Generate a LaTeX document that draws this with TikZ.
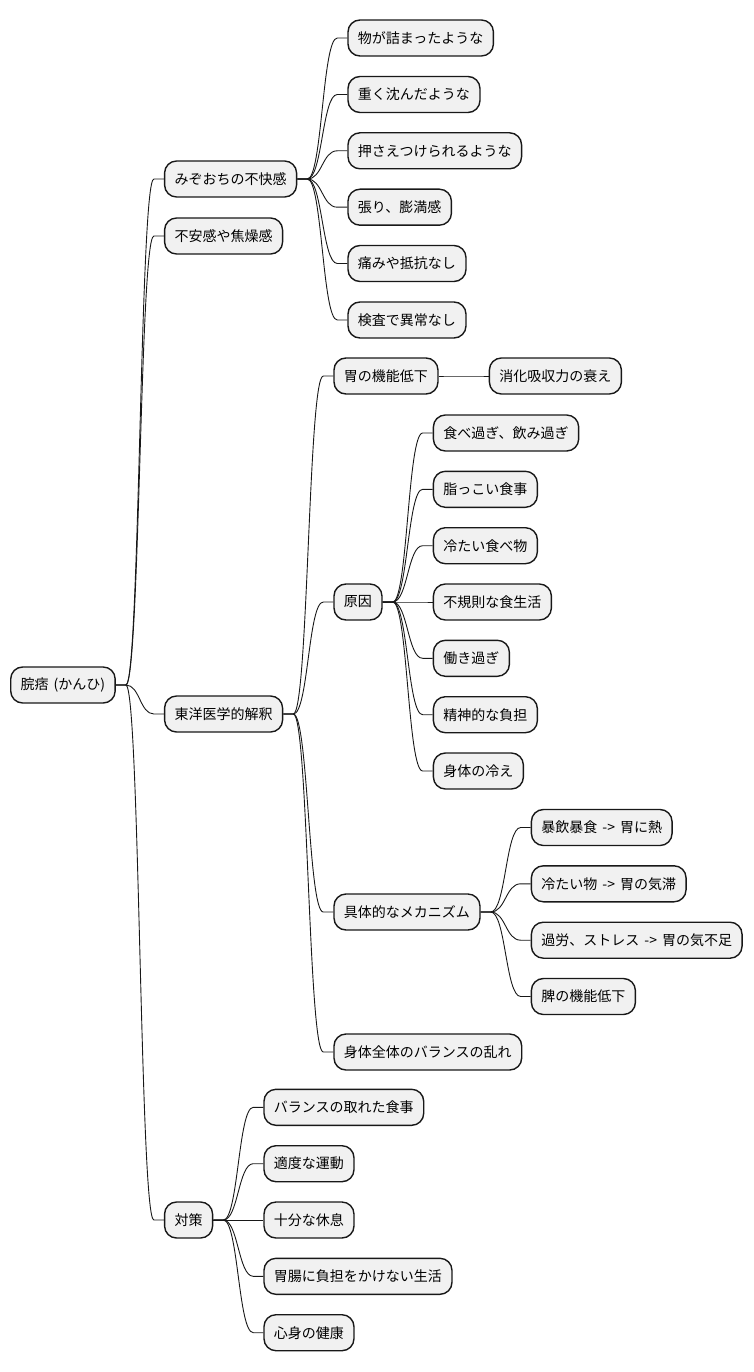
\documentclass[tikz,border=0pt]{standalone}
\usepackage{fontspec}
\setmainfont[WordSpace=1.6]{Noto Sans CJK JP}
\usetikzlibrary{positioning,calc}
\definecolor{boxgray}{RGB}{241,241,241}
\definecolor{edgegray}{RGB}{24,24,24}
\newcommand{\branch}[2]{%
    \path (#1.east) ++(10pt,0) coordinate (s);
    \path (#2.west) ++(-10pt,0) coordinate (t);
    \coordinate (m) at ($(s)!0.5!(t)$);
    \draw[link] (#1.east) -- (s) .. controls (s -| m) and (t -| m) .. (t) -- (#2.west);
}

\begin{document}
\begin{tikzpicture}[
    node distance=50pt,
    box/.style={rectangle, draw=edgegray, fill=boxgray, line width=1.4pt, rounded corners=12pt, minimum height=36pt, inner xsep=10pt, inner ysep=0pt, font=\fontsize{14}{17}\selectfont},
    link/.style={draw=edgegray, line width=0.9pt}
]
    \useasboundingbox (0,0) rectangle (754pt,-1372pt);

    \node[box, anchor=west] (root) at (10pt,-685pt) {脘痞 (かんひ)};

    \node[box, right=48pt of root, yshift=506pt] (mizo) {みぞおちの不快感};
    \node[box, right=48pt of root, yshift=449pt] (fuan) {不安感や焦燥感};
    \node[box, right=48pt of root, yshift=-29pt] (toyo) {東洋医学的解釈};
    \node[box, right=48pt of root, yshift=-535pt] (taisaku) {対策};

    % みぞおち
    \node[box, right=of mizo, yshift=141pt] (mizo1) {物が詰まったような};
    \node[box, right=of mizo, yshift=84.5pt] (mizo2) {重く沈んだような};
    \node[box, right=of mizo, yshift=28.2pt] (mizo3) {押さえつけられるような};
    \node[box, right=of mizo, yshift=-28.2pt] (mizo4) {張り、膨満感};
    \node[box, right=of mizo, yshift=-84.5pt] (mizo5) {痛みや抵抗なし};
    \node[box, right=of mizo, yshift=-141pt] (mizo6) {検査で異常なし};

    % 東洋医学
    \node[box, right=of toyo, yshift=338pt] (ino) {胃の機能低下};
    \node[box, right=of ino] (shoka) {消化吸収力の衰え};
    \node[box, right=of toyo, yshift=112pt] (gen) {原因};
    \node[box, right=of toyo, yshift=-198pt] (mech) {具体的なメカニズム};
    \node[box, right=of toyo, yshift=-338pt] (zentai) {身体全体のバランスの乱れ};

    \node[box, right=of gen, yshift=169pt] (gen1) {食べ過ぎ、飲み過ぎ};
    \node[box, right=of gen, yshift=112.7pt] (gen2) {脂っこい食事};
    \node[box, right=of gen, yshift=56.3pt] (gen3) {冷たい食べ物};
    \node[box, right=of gen] (gen4) {不規則な食生活};
    \node[box, right=of gen, yshift=-56.3pt] (gen5) {働き過ぎ};
    \node[box, right=of gen, yshift=-112.7pt] (gen6) {精神的な負担};
    \node[box, right=of gen, yshift=-169pt] (gen7) {身体の冷え};

    \node[box, right=of mech, yshift=84.5pt] (mech1) {暴飲暴食 -> 胃に熱};
    \node[box, right=of mech, yshift=28.2pt] (mech2) {冷たい物 -> 胃の気滞};
    \node[box, right=of mech, yshift=-28.2pt] (mech3) {過労、ストレス -> 胃の気不足};
    \node[box, right=of mech, yshift=-84.5pt] (mech4) {脾の機能低下};

    % 対策
    \node[box, right=of taisaku, yshift=112.7pt] (tai1) {バランスの取れた食事};
    \node[box, right=of taisaku, yshift=56.3pt] (tai2) {適度な運動};
    \node[box, right=of taisaku] (tai3) {十分な休息};
    \node[box, right=of taisaku, yshift=-56.3pt] (tai4) {胃腸に負担をかけない生活};
    \node[box, right=of taisaku, yshift=-112.7pt] (tai5) {心身の健康};

    \foreach \c in {mizo,fuan,toyo,taisaku} {\branch{root}{\c}}
    \foreach \c in {mizo1,mizo2,mizo3,mizo4,mizo5,mizo6} {\branch{mizo}{\c}}
    \foreach \c in {ino,gen,mech,zentai} {\branch{toyo}{\c}}
    \branch{ino}{shoka}
    \foreach \c in {gen1,gen2,gen3,gen4,gen5,gen6,gen7} {\branch{gen}{\c}}
    \foreach \c in {mech1,mech2,mech3,mech4} {\branch{mech}{\c}}
    \foreach \c in {tai1,tai2,tai3,tai4,tai5} {\branch{taisaku}{\c}}
\end{tikzpicture}
\end{document}
